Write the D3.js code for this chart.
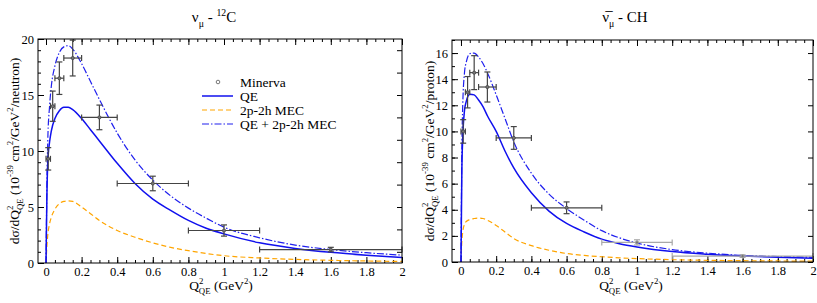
<!DOCTYPE html>
<html>
<head>
<meta charset="utf-8">
<script src="https://cdn.jsdelivr.net/npm/d3@7"></script>
<style>
  body { margin: 0; background: #fff; }
  svg text { font-family: "Liberation Serif", "DejaVu Serif", serif; fill: #000; }
</style>
</head>
<body>
<svg id="chart" width="817" height="303"></svg>
<script>
// Q2 grid for the theory curves (GeV^2)
var qGrid = [0, 0.005, 0.01, 0.02, 0.03, 0.05, 0.075, 0.1, 0.125, 0.15, 0.2, 0.25, 0.3,
             0.4, 0.5, 0.6, 0.7, 0.8, 0.9, 1.0, 1.2, 1.4, 1.6, 1.8, 2.0];

// neutrino - 12C
var nuQE  = [0, 6, 9, 10.8, 11.8, 12.9, 13.6, 13.9, 13.9, 13.7, 12.9, 11.9, 10.9,
             8.9, 7.1, 5.7, 4.7, 3.8, 3.1, 2.6, 1.8, 1.3, 0.95, 0.7, 0.5];
var nuMEC = [0, 1.5, 2.5, 3.5, 4.1, 4.8, 5.3, 5.5, 5.55, 5.5, 5.0, 4.4, 3.8,
             2.9, 2.3, 1.8, 1.4, 1.1, 0.85, 0.65, 0.45, 0.32, 0.24, 0.18, 0.14];
var nuSum = [0, 7, 11, 14, 15.8, 17.6, 18.8, 19.3, 19.4, 19.1, 17.8, 16.2, 14.6,
             11.6, 9.2, 7.4, 6.0, 4.9, 4.0, 3.2, 2.25, 1.6, 1.2, 0.92, 0.7];

// antineutrino - CH
var anuQE  = [0, 7, 9.5, 11.6, 12.3, 12.85, 12.8, 12.4, 11.9, 11.2, 10.0, 8.5, 7.2,
              5.3, 3.9, 2.95, 2.3, 1.75, 1.4, 1.15, 0.8, 0.6, 0.46, 0.36, 0.28];
var anuMEC = [0, 1.6, 2.3, 2.9, 3.1, 3.25, 3.33, 3.36, 3.33, 3.2, 2.8, 2.3, 1.8,
              1.25, 0.9, 0.65, 0.5, 0.4, 0.32, 0.26, 0.18, 0.13, 0.1, 0.08, 0.06];
var anuSum = [0, 8.5, 12, 14.5, 15.3, 15.95, 16.0, 15.7, 15.2, 14.5, 12.8, 11.0, 9.2,
              6.8, 5.2, 4.1, 3.2, 2.4, 1.85, 1.45, 0.95, 0.68, 0.5, 0.42, 0.36];

// Minerva data: bin centre, bin edges, value, error
var binQ  = [0.0125, 0.0375, 0.075, 0.15, 0.3, 0.6, 1.0, 1.6];
var binLo = [0, 0.025, 0.05, 0.1, 0.2, 0.4, 0.8, 1.2];
var binHi = [0.025, 0.05, 0.1, 0.2, 0.4, 0.8, 1.2, 2.0];
var nuData  = [9.3, 14.0, 16.5, 18.3, 13.0, 7.1, 2.9, 1.2];
var nuErr   = [1.0, 1.35, 1.45, 1.6, 1.1, 0.65, 0.5, 0.2];
var anuData = [10.0, 13.0, 14.5, 13.4, 9.5, 4.15, 1.5, 0.45];
var anuErr  = [0.9, 1.2, 1.3, 1.15, 0.87, 0.45, 0.2, 0.1];

var legendLabels = ["Minerva", "QE", "2p-2h MEC", "QE + 2p-2h MEC"];

var svg = d3.select("#chart");
var serif = '"Liberation Serif", "DejaVu Serif", serif';

// write text made of plain / sup / sub pieces
function rich(t, parts, size) {
  parts.forEach(function (p) {
    var s = t.append("tspan").text(p[0]);
    if (p[1] === "sup") s.attr("font-size", size * 0.65).attr("dy", -size * 0.42);
    else if (p[1] === "sub") s.attr("font-size", size * 0.65).attr("dy", size * 0.3);
    else if (p[1] === "stack") s.attr("font-size", size * 0.65).attr("dx", -size * 0.33).attr("dy", size * 0.72);
    // restore baseline for the next plain piece
    if (p[1] === "n" && p[3]) s.attr("dy", p[3]);
  });
}

function series(vals) {
  return qGrid.map(function (q, i) { return [q, vals[i]]; });
}

function panel(cfg) {
  var g = svg.append("g");
  var x = d3.scaleLinear().domain(cfg.xDom).range([cfg.left, cfg.right]);
  var y = d3.scaleLinear().domain(cfg.yDom).range([cfg.bottom, cfg.top]);

  var clipId = "clip" + cfg.id;
  g.append("clipPath").attr("id", clipId).append("rect")
    .attr("x", cfg.left).attr("y", cfg.top)
    .attr("width", cfg.right - cfg.left).attr("height", cfg.bottom - cfg.top);

  var xMajor = d3.range(0, 2.001, 0.2);
  var xMinor = d3.range(0, 2.001, 0.05);
  var fmt = function (d) { return String(+d.toFixed(1)); };

  // bottom axis
  g.append("g").attr("transform", "translate(0," + cfg.bottom + ")")
    .call(d3.axisBottom(x).tickValues(xMinor).tickSize(-3).tickFormat(""));
  g.append("g").attr("transform", "translate(0," + cfg.bottom + ")")
    .call(d3.axisBottom(x).tickValues(xMajor).tickSize(-6).tickPadding(4).tickFormat(fmt));
  // top axis
  g.append("g").attr("transform", "translate(0," + cfg.top + ")")
    .call(d3.axisTop(x).tickValues(xMinor).tickSize(-3).tickFormat(""));
  g.append("g").attr("transform", "translate(0," + cfg.top + ")")
    .call(d3.axisTop(x).tickValues(xMajor).tickSize(-6).tickFormat(""));
  // left axis
  g.append("g").attr("transform", "translate(" + cfg.left + ",0)")
    .call(d3.axisLeft(y).tickValues(cfg.yMinor).tickSize(-3).tickFormat(""));
  g.append("g").attr("transform", "translate(" + cfg.left + ",0)")
    .call(d3.axisLeft(y).tickValues(cfg.yMajor).tickSize(-6).tickPadding(4).tickFormat(d3.format("d")));
  // right axis
  g.append("g").attr("transform", "translate(" + cfg.right + ",0)")
    .call(d3.axisRight(y).tickValues(cfg.yRight).tickSize(-5).tickFormat(""));

  g.selectAll(".domain").remove();
  g.selectAll(".tick line").attr("stroke", "#000");
  g.selectAll(".tick text").attr("font-size", null)
    .style("font-size", "12.5px").style("font-family", serif).attr("fill", "#000");

  var line = d3.line()
    .x(function (d) { return x(d[0]); })
    .y(function (d) { return y(d[1]); })
    .curve(d3.curveMonotoneX);

  var curves = g.append("g").attr("clip-path", "url(#" + clipId + ")");
  curves.append("path").datum(series(cfg.mec)).attr("d", line)
    .attr("fill", "none").attr("stroke", "#ffa500").attr("stroke-width", 1.2)
    .attr("stroke-dasharray", "5,3");
  curves.append("path").datum(series(cfg.sum)).attr("d", line)
    .attr("fill", "none").attr("stroke", "#2020ee").attr("stroke-width", 1.2)
    .attr("stroke-dasharray", "7,2,1.5,2");
  curves.append("path").datum(series(cfg.qe)).attr("d", line)
    .attr("fill", "none").attr("stroke", "#1010ee").attr("stroke-width", 1.5);

  // data points with error bars
  var pts = binQ.map(function (q, i) {
    return { q: q, lo: binLo[i], hi: binHi[i], v: cfg.data[i], e: cfg.err[i], i: i };
  });
  var pg = g.append("g").selectAll("g").data(pts).enter().append("g")
    .attr("stroke", function (d) { return cfg.lightFrom !== undefined && d.i >= cfg.lightFrom ? "#a8a8a8" : "#444"; })
    .attr("stroke-width", 1.2);
  pg.append("line")
    .attr("x1", function (d) { return x(d.lo); }).attr("x2", function (d) { return x(d.hi); })
    .attr("y1", function (d) { return y(d.v); }).attr("y2", function (d) { return y(d.v); });
  pg.append("line")
    .attr("x1", function (d) { return x(d.q); }).attr("x2", function (d) { return x(d.q); })
    .attr("y1", function (d) { return y(d.v - d.e); }).attr("y2", function (d) { return y(d.v + d.e); });
  ["lo", "hi"].forEach(function (k) {
    pg.append("line")
      .attr("x1", function (d) { return x(d[k]); }).attr("x2", function (d) { return x(d[k]); })
      .attr("y1", function (d) { return y(d.v) - 3; }).attr("y2", function (d) { return y(d.v) + 3; });
  });
  [-1, 1].forEach(function (s) {
    pg.append("line")
      .attr("x1", function (d) { return x(d.q) - 3; }).attr("x2", function (d) { return x(d.q) + 3; })
      .attr("y1", function (d) { return y(d.v + s * d.e); }).attr("y2", function (d) { return y(d.v + s * d.e); });
  });
  pg.append("circle")
    .attr("cx", function (d) { return x(d.q); }).attr("cy", function (d) { return y(d.v); })
    .attr("r", 1.6).attr("fill", "#777").attr("stroke-width", 0.8);

  // frame
  g.append("rect").attr("x", cfg.left).attr("y", cfg.top)
    .attr("width", cfg.right - cfg.left).attr("height", cfg.bottom - cfg.top)
    .attr("fill", "none").attr("stroke", "#000").attr("stroke-width", 1);

  // title
  var t = g.append("text").attr("x", cfg.titleX).attr("y", 22)
    .attr("text-anchor", "middle").attr("font-size", 15);
  rich(t, cfg.title, 15);

  // x label
  var xl = g.append("text").attr("x", cfg.xLabelX).attr("y", 290)
    .attr("text-anchor", "middle").attr("font-size", 13.5);
  rich(xl, [["Q", "n"], ["2", "sup"], ["QE", "stack"], [" (GeV", "n", null, -13.5 * 0.3], ["2", "sup"], [")", "n", null, 13.5 * 0.42]], 13.5);

  // y label
  var cy = (cfg.top + cfg.bottom) / 2;
  var yl = g.append("text").attr("transform", "translate(" + cfg.yLabelX + "," + cy + ") rotate(-90)")
    .attr("text-anchor", "middle").attr("font-size", 13.5);
  rich(yl, [["d\u03c3/dQ", "n"], ["2", "sup"], ["QE", "stack"], [" (10", "n", null, -13.5 * 0.3],
            ["-39", "sup"], [" cm", "n", null, 13.5 * 0.42], ["2", "sup"], ["/GeV", "n", null, 13.5 * 0.42],
            ["2", "sup"], ["/" + cfg.unit + ")", "n", null, 13.5 * 0.42]], 13.5);

  return { x: x, y: y, g: g };
}

panel({
  id: "L", left: 38, right: 402, top: 39, bottom: 263,
  xDom: [-0.045, 2], yDom: [0, 20],
  yMajor: d3.range(0, 20.1, 5), yMinor: d3.range(0, 20.1, 1), yRight: d3.range(1, 20, 2),
  qe: nuQE, mec: nuMEC, sum: nuSum, data: nuData, err: nuErr,
  titleX: 214, xLabelX: 221, yLabelX: 19, unit: "neutron",
  title: [["\u03bd", "n"], ["\u03bc", "sub"], [" - ", "n", null, -15 * 0.3], ["12", "sup"], ["C", "n", null, 15 * 0.42]]
});

panel({
  id: "R", left: 452, right: 813, top: 40, bottom: 262,
  xDom: [-0.051, 2], yDom: [0, 17],
  yMajor: d3.range(0, 16.1, 2), yMinor: d3.range(0, 17.1, 1), yRight: d3.range(0, 17.1, 2),
  qe: anuQE, mec: anuMEC, sum: anuSum, data: anuData, err: anuErr, lightFrom: 6,
  titleX: 625, xLabelX: 631, yLabelX: 434, unit: "proton",
  title: [["\u03bd\u0305", "n"], ["\u03bc", "sub"], [" - CH", "n", null, -15 * 0.3]]
});

// legend
var leg = svg.append("g").attr("font-size", 13.5);
var rows = [82, 96, 110, 124];
leg.append("circle").attr("cx", 218).attr("cy", rows[0]).attr("r", 1.8)
  .attr("fill", "none").attr("stroke", "#555").attr("stroke-width", 0.8);
[["#1010ee", null, 1.5], ["#ffa500", "5,3", 1.2], ["#2020ee", "7,2,1.5,2", 1.2]].forEach(function (s, i) {
  leg.append("line").attr("x1", 202).attr("x2", 233).attr("y1", rows[i + 1]).attr("y2", rows[i + 1])
    .attr("stroke", s[0]).attr("stroke-width", s[2]).attr("stroke-dasharray", s[1]);
});
leg.selectAll("text.lab").data(legendLabels).enter().append("text")
  .attr("class", "lab").attr("x", 240).attr("y", function (d, i) { return rows[i] + 4.5; })
  .text(function (d) { return d; });
</script>
</body>
</html>
